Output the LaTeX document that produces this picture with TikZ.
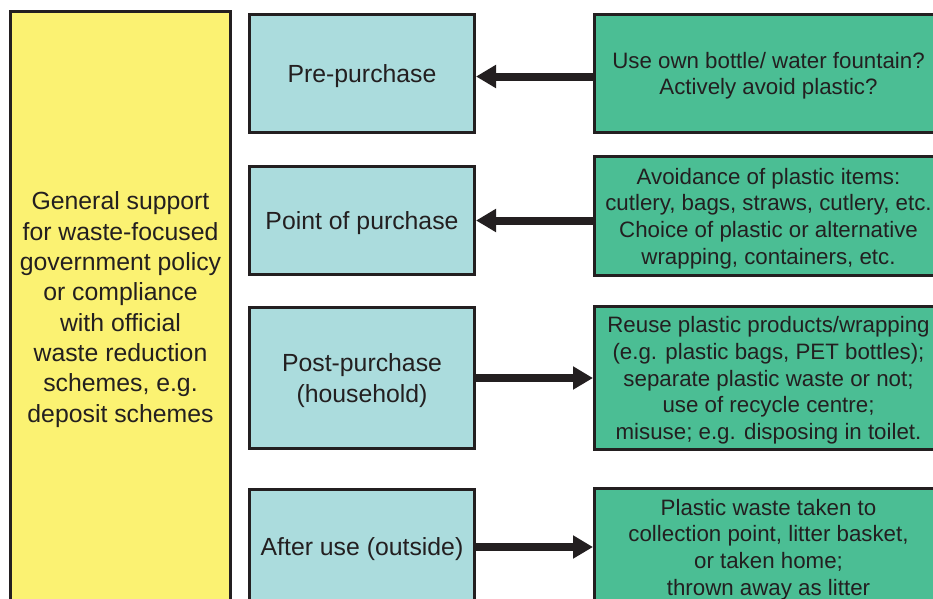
\documentclass[tikz,border=0pt]{standalone}
\usepackage{fontspec}
\setmainfont{Liberation Sans}
\usepackage{xcolor}
\usepackage{tikz}
\usetikzlibrary{arrows.meta,positioning}

\definecolor{suppyellow}{RGB}{251,242,114}
\definecolor{stageblue}{RGB}{171,220,221}
\definecolor{actgreen}{RGB}{75,190,148}
\definecolor{edgedark}{RGB}{35,31,32}

\begin{document}
\begin{tikzpicture}[
  support/.style={draw=edgedark, line width=3pt, fill=suppyellow, text=edgedark, minimum width=220pt, minimum height=591pt, align=center, font=\fontsize{24.8pt}{30.3pt}\selectfont, text depth=-0.8pt},
  stage/.style={draw=edgedark, line width=3pt, fill=stageblue, text=edgedark, minimum width=225pt, align=center, font=\fontsize{24.8pt}{30.3pt}\selectfont, text depth=-2.8pt},
  action/.style={draw=edgedark, line width=3pt, fill=actgreen, text=edgedark, minimum width=348pt, align=center, font=\fontsize{22.3pt}{26.7pt}\selectfont, text depth=-4.3pt},
  arr/.style={-{Triangle[length=20pt, width=22pt]}, line width=8pt, draw=edgedark},
  node distance=30pt
]
\clip (0pt,0pt) rectangle (933pt,-598pt);

\node[support, anchor=north west] (gen) at (9pt,-10pt) {General support\\for waste-focused\\government policy\\or compliance\\with official\\waste reduction\\schemes, e.g.\\deposit schemes};

\node[stage, minimum height=118pt, anchor=north west] (pre) at (248pt,-13pt) {Pre-purchase};
\node[stage, minimum height=108pt, below=31pt of pre] (poi) {Point of purchase};
\node[stage, minimum height=141pt, below=30pt of poi] (post) {Post-purchase\\(household)};
\node[stage, minimum height=115pt, below=38pt of post] (after) {After use (outside)};

\node[action, minimum height=118pt, right=117pt of pre] (preact) {Use own bottle/ water fountain?\\Actively avoid plastic?};
\node[action, minimum height=119pt, right=117pt of poi, yshift=4.5pt] (poiact) {Avoidance of plastic items:\\cutlery, bags, straws, cutlery, etc.\\Choice of plastic or alternative\\wrapping, containers, etc.};
\node[action, minimum height=143pt, right=117pt of post] (postact) {Reuse plastic products/wrapping\\(e.g. plastic bags, PET bottles);\\separate plastic waste or not;\\use of recycle centre;\\misuse; e.g. disposing in toilet.};
\node[action, minimum height=117pt, right=117pt of after] (afteract) {Plastic waste taken to\\collection point, litter basket,\\or taken home;\\thrown away as litter};

\draw[arr] ([yshift=-3pt]preact.west) -- ([yshift=-3pt]pre.east);
\draw[arr] (poiact.west |- poi.east) -- (poi.east);
\draw[arr] (post) -- (postact);
\draw[arr] (after) -- (afteract);

\end{tikzpicture}
\end{document}
